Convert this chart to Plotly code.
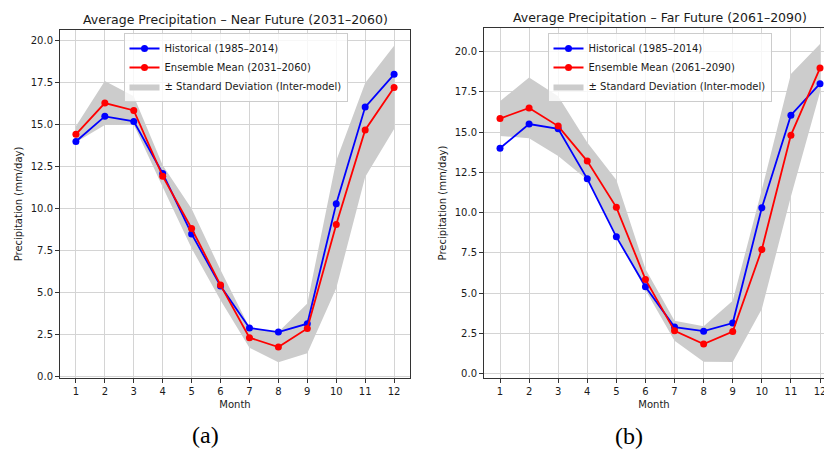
import plotly.graph_objects as go

# ---------------- data ----------------
months = list(range(1, 13))
month_labels = [str(m) for m in months]

historical = [14.0, 15.5, 15.2, 12.1, 8.5, 5.4, 2.9, 2.65, 3.15, 10.3, 16.05, 18.0]

near_mean = [14.43, 16.29, 15.85, 11.94, 8.82, 5.45, 2.32, 1.76, 2.87, 9.06, 14.69, 17.22]
near_std = [0.48, 1.31, 0.85, 0.65, 1.18, 0.90, 0.60, 0.90, 1.48, 3.80, 2.80, 2.48]

far_mean = [15.84, 16.50, 15.37, 13.20, 10.33, 5.86, 2.67, 1.85, 2.63, 7.72, 14.81, 18.97]
far_std = [1.08, 1.88, 1.85, 1.15, 1.70, 0.65, 0.62, 1.10, 1.90, 3.70, 3.80, 1.50]

panels = [
    dict(title="Average Precipitation \u2013 Near Future (2031\u20132060)",
         ens_name="Ensemble Mean (2031\u20132060)", mean=near_mean, std=near_std, tag="(a)"),
    dict(title="Average Precipitation \u2013 Far Future (2061\u20132090)",
         ens_name="Ensemble Mean (2061\u20132090)", mean=far_mean, std=far_std, tag="(b)"),
]

# ---------------- layout geometry (px) ----------------
W, H = 824, 450
FONT = "DejaVu Sans"
TXT = "#1a1a1a"
AX = "#333333"
GRID = "#d4d4d4"

# left panel: full plot area; right panel: cropped at the image edge
left_box = dict(x0=60, x1=410, top=30, bottom=378)
right_box = dict(x0=484, x1=824, full_x1=836, top=28, bottom=378)

fig = go.Figure()

for i, p in enumerate(panels):
    xa = "x" if i == 0 else "x2"
    ya = "y" if i == 0 else "y2"
    lg = "legend" if i == 0 else "legend2"
    upper = [m + s for m, s in zip(p["mean"], p["std"])]
    lower = [m - s for m, s in zip(p["mean"], p["std"])]
    fig.add_trace(go.Scatter(
        x=months + months[::-1], y=upper + lower[::-1],
        fill="toself", fillcolor="#cccccc", line=dict(width=0, color="#cccccc"),
        mode="lines", name="\u00b1 Standard Deviation (Inter-model)",
        xaxis=xa, yaxis=ya, legend=lg, legendrank=3, hoverinfo="skip"))
    fig.add_trace(go.Scatter(
        x=months, y=historical, mode="lines+markers",
        line=dict(color="#0000ff", width=1.8), marker=dict(color="#0000ff", size=7),
        name="Historical (1985\u20132014)", xaxis=xa, yaxis=ya, legend=lg, legendrank=1))
    fig.add_trace(go.Scatter(
        x=months, y=p["mean"], mode="lines+markers",
        line=dict(color="#ff0000", width=1.8), marker=dict(color="#ff0000", size=7),
        name=p["ens_name"], xaxis=xa, yaxis=ya, legend=lg, legendrank=2))


def yrange(mean, std):
    lo = min(min(m - s for m, s in zip(mean, std)), min(historical))
    hi = max(max(m + s for m, s in zip(mean, std)), max(historical))
    pad = 0.05 * (hi - lo)
    return [lo - pad, hi + pad]


xpad = 0.05 * (months[-1] - months[0])
xr_full = [months[0] - xpad, months[-1] + xpad]
frac = (right_box["x1"] - right_box["x0"]) / (right_box["full_x1"] - right_box["x0"])
xr_right = [xr_full[0], xr_full[0] + frac * (xr_full[1] - xr_full[0])]

common_x = dict(
    tickmode="array", tickvals=months, ticktext=month_labels,
    showgrid=True, gridcolor=GRID, gridwidth=1, zeroline=False,
    showline=True, linecolor=AX, linewidth=1, mirror=True,
    ticks="outside", ticklen=4, tickwidth=1, tickcolor=AX,
    tickfont=dict(family=FONT, size=10, color=TXT), ticklabeloverflow="allow",
    title=dict(text="Month", font=dict(family=FONT, size=10, color=TXT), standoff=4),
    automargin=False, fixedrange=True,
)
common_y = dict(
    tick0=0, dtick=2.5, tickformat=".1f",
    showgrid=True, gridcolor=GRID, gridwidth=1, zeroline=False,
    showline=True, linecolor=AX, linewidth=1,
    ticks="outside", ticklen=4, tickwidth=1, tickcolor=AX,
    tickfont=dict(family=FONT, size=10, color=TXT),
    title=dict(text="Precipitation (mm/day)", font=dict(family=FONT, size=10, color=TXT), standoff=6),
    automargin=False, fixedrange=True,
)

fig.update_layout(
    width=W, height=H, margin=dict(l=0, r=0, t=0, b=0),
    paper_bgcolor="white", plot_bgcolor="white",
    font=dict(family=FONT, size=10, color=TXT),
    xaxis=dict(common_x, domain=[left_box["x0"] / W, left_box["x1"] / W], range=xr_full, anchor="y"),
    yaxis=dict(common_y, domain=[1 - left_box["bottom"] / H, 1 - left_box["top"] / H],
               range=yrange(near_mean, near_std), anchor="x", mirror=True),
    xaxis2=dict(common_x, domain=[right_box["x0"] / W, 1.0], range=xr_right, anchor="y2"),
    yaxis2=dict(common_y, domain=[1 - right_box["bottom"] / H, 1 - right_box["top"] / H],
                range=yrange(far_mean, far_std), anchor="x2", mirror=False),
    legend=dict(x=235.5 / W, y=1 - 33 / H, xanchor="center", yanchor="top",
                bgcolor="rgba(255,255,255,0.8)", bordercolor="#cccccc", borderwidth=1,
                font=dict(family=FONT, size=10, color=TXT), itemwidth=30, tracegroupgap=0),
    legend2=dict(x=659.5 / W, y=1 - 33 / H, xanchor="center", yanchor="top",
                 bgcolor="rgba(255,255,255,0.8)", bordercolor="#cccccc", borderwidth=1,
                 font=dict(family=FONT, size=10, color=TXT), itemwidth=30, tracegroupgap=0),
    showlegend=True,
)

# subplot titles and panel tags
title_pos = [(235 / W, 1 - 20 / H), (659.5 / W, 1 - 17.5 / H)]
tag_pos = [(205 / W, 1 - 435 / H), (629 / W, 1 - 436 / H)]
for p, (tx, ty), (gx, gy) in zip(panels, title_pos, tag_pos):
    fig.add_annotation(text=p["title"], x=tx, y=ty, xref="paper", yref="paper",
                       xanchor="center", yanchor="middle", showarrow=False,
                       font=dict(family=FONT, size=12.5, color=TXT))
    fig.add_annotation(text=p["tag"], x=gx, y=gy, xref="paper", yref="paper",
                       xanchor="center", yanchor="middle", showarrow=False,
                       font=dict(family="Liberation Serif", size=24, color="#000000"))

fig.write_html("out.html")
